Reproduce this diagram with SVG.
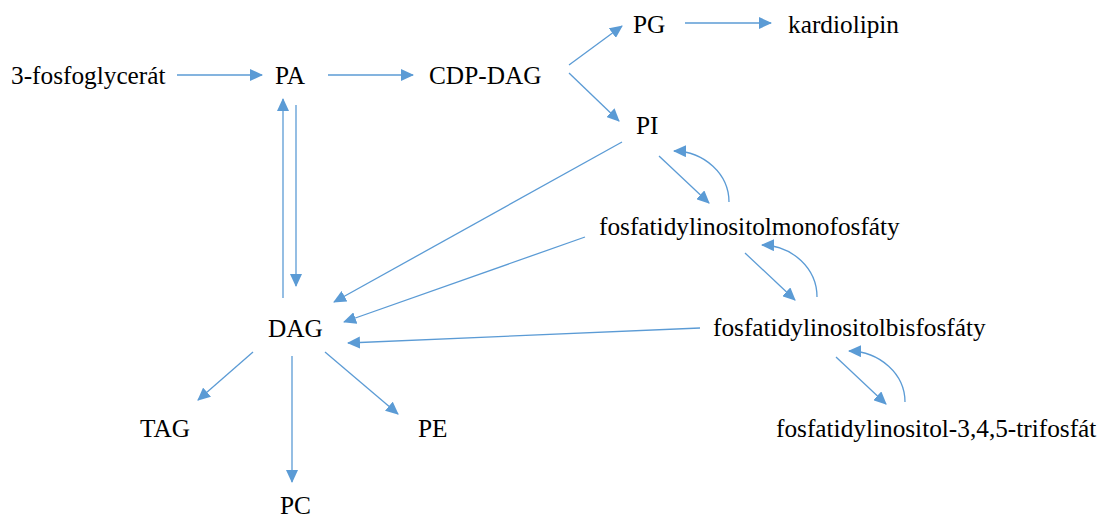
<svg xmlns="http://www.w3.org/2000/svg" width="1101" height="519" viewBox="0 0 1101 519">
<style>
text{font-family:"Liberation Serif","Times New Roman",serif;font-size:25.3px;fill:#000}
.c{fill:none;stroke:#5B9BD5;stroke-width:1.3;marker-end:url(#ah)}
</style>
<defs>
<marker id="ah" markerUnits="userSpaceOnUse" markerWidth="14" markerHeight="12" refX="12" refY="6" orient="auto" viewBox="0 0 14 12">
<path d="M0,0 L13,6 L0,12 z" fill="#5B9BD5"/>
</marker>
</defs>
<rect width="1101" height="519" fill="#fff"/>
<g id="connectors">
<line class="c" x1="177" y1="75" x2="262" y2="75"/>
<line class="c" x1="328" y1="75" x2="413" y2="75"/>
<line class="c" x1="569" y1="65" x2="622" y2="26"/>
<line class="c" x1="569" y1="73" x2="619" y2="121"/>
<line class="c" x1="685" y1="23" x2="771" y2="23"/>
<line class="c" x1="622" y1="142" x2="334" y2="302"/>
<line class="c" x1="585" y1="237" x2="344" y2="322"/>
<line class="c" x1="700" y1="328" x2="348" y2="343"/>
<line class="c" x1="659" y1="156" x2="709" y2="203"/>
<path class="c" d="M729,202 A56,51 0 0 0 674,151"/>
<line class="c" x1="745" y1="253" x2="795" y2="300"/>
<path class="c" d="M817,297 A56,52 0 0 0 762,245"/>
<line class="c" x1="836" y1="357" x2="886" y2="404"/>
<path class="c" d="M905,402 A57,51 0 0 0 849,351"/>
<line class="c" x1="296" y1="105" x2="296" y2="286"/>
<line class="c" x1="283" y1="298" x2="283" y2="99"/>
<line class="c" x1="253" y1="352" x2="198" y2="400"/>
<line class="c" x1="292" y1="356" x2="292" y2="482"/>
<line class="c" x1="325" y1="352" x2="398" y2="414"/>
</g>
<g id="n3pg"><text x="11" y="84">3-fosfoglycerát</text></g>
<g id="nPA"><text x="275" y="84">PA</text></g>
<g id="nCDPDAG"><text x="429" y="84">CDP-DAG</text></g>
<g id="nPG"><text x="633" y="33">PG</text></g>
<g id="nKL"><text x="788" y="33">kardiolipin</text></g>
<g id="nPI"><text x="636" y="134">PI</text></g>
<g id="nPIP"><text x="599" y="235">fosfatidylinositolmonofosfáty</text></g>
<g id="nPIP2"><text x="713" y="336">fosfatidylinositolbisfosfáty</text></g>
<g id="nPIP3"><text x="776" y="437">fosfatidylinositol-3,4,5-trifosfát</text></g>
<g id="nDAG"><text x="268" y="337">DAG</text></g>
<g id="nTAG"><text x="140" y="437">TAG</text></g>
<g id="nPE"><text x="418" y="437">PE</text></g>
<g id="nPC"><text x="280" y="514">PC</text></g>
</svg>
